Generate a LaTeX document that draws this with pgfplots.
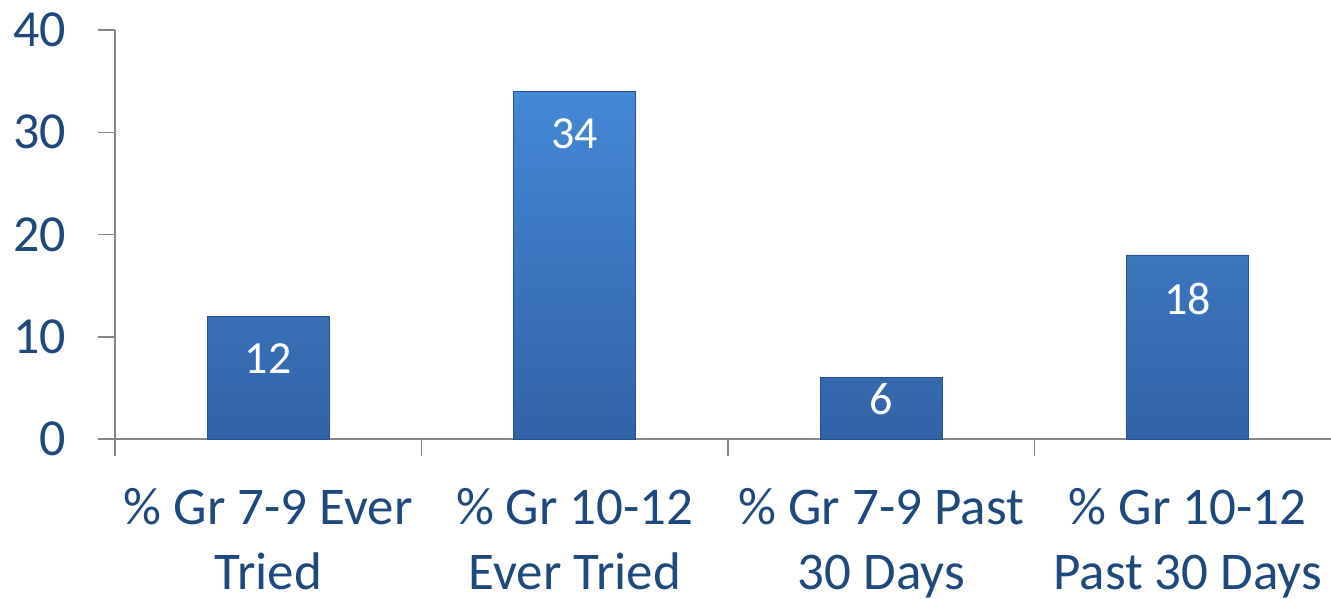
\documentclass[border=0pt]{standalone}
\usepackage{pgfplots}
\pgfplotsset{compat=1.18}
\usepackage{pgfplotstable}
\usepackage{fontspec}
\setmainfont{Carlito}
\definecolor{txtblue}{RGB}{31,73,125}
\definecolor{bartop}{RGB}{68,136,214}
\definecolor{barbot}{RGB}{50,98,166}
\definecolor{baredge}{RGB}{40,82,140}
\definecolor{axgray}{RGB}{134,134,134}
\pgfplotstableread{
x y off
0 12 -42
1 34 -42
2 6 -21
3 18 -44
}\datatab
\begin{document}
\begin{tikzpicture}[x=1pt,y=1pt]
\begin{axis}[
  at={(115pt,159pt)}, anchor=south west,
  scale only axis, width=1226pt, height=409pt,
  xmin=-0.5, xmax=3.5, ymin=0, ymax=40,
  axis x line=bottom, axis y line=left,
  axis line style={axgray, line width=1.5pt, -},
  tick align=outside, major tick length=17pt,
  tick style={axgray, line width=1.5pt},
  ytick={0,10,20,30,40},
  xtick={-0.5,0.5,1.5,2.5,3.5}, xticklabels={},
  extra x ticks={0,1,2,3},
  extra x tick labels={{\% Gr 7-9 Ever\\Tried},{\% Gr 10-12\\Ever Tried},{\% Gr 7-9 Past\\30 Days},{\% Gr 10-12\\Past 30 Days}},
  extra x tick style={major tick length=0pt, tick style={draw=none}},
  xticklabel style={align=center, anchor=north, inner sep=0pt, font=\fontsize{53}{65}\selectfont, text=txtblue, yshift=-49pt},
  yticklabel style={anchor=east, inner sep=0pt, font=\fontsize{52}{62}\selectfont, text=txtblue, xshift=-32pt},
  /pgf/number format/assume math mode=true,
  clip=false,
  ybar, bar width=122pt,
  nodes near coords,
  visualization depends on={\thisrow{off} \as \myoff},
  every node near coord/.append style={anchor=center, yshift=\myoff, text=white, font=\fontsize{46}{54}\selectfont},
]
\addplot[draw=baredge, line width=0.8pt, top color=bartop, bottom color=barbot] table[x=x,y=y] {\datatab};
\end{axis}
\pgfresetboundingbox
\path (0,0) rectangle (1331pt,598pt);
\end{tikzpicture}
\end{document}
